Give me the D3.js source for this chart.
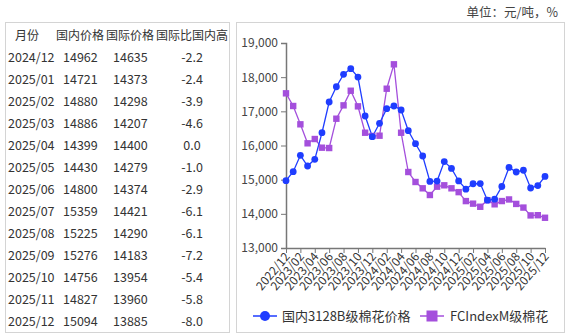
<!DOCTYPE html>
<html><head><meta charset="utf-8">
<script src="https://cdn.jsdelivr.net/npm/d3@7"></script>
<style>
body{margin:0;background:#fff;}
svg text{font-family:"Noto Sans CJK SC","Noto Sans",sans-serif;}
</style></head>
<body><svg id="c" width="569" height="336"></svg>
<script>
const months = ["2022/12","2023/01","2023/02","2023/03","2023/04","2023/05","2023/06","2023/07","2023/08","2023/09","2023/10","2023/11","2023/12",
"2024/01","2024/02","2024/03","2024/04","2024/05","2024/06","2024/07","2024/08","2024/09","2024/10","2024/11","2024/12",
"2025/01","2025/02","2025/03","2025/04","2025/05","2025/06","2025/07","2025/08","2025/09","2025/10","2025/11","2025/12"];
const domestic = [14970,15233,15713,15400,15596,16374,17273,17720,18083,18248,18004,16863,16258,
16649,17077,17156,17039,16433,16052,15692,14950,14960,15530,15330,14962,
14721,14880,14886,14399,14430,14800,15359,15225,15276,14756,14827,15094];
const intl = [17527,17156,16620,16064,16190,15936,15926,16784,17175,17603,17146,16374,16280,
16287,17662,18376,16374,15224,14932,14747,14551,14795,14835,14747,14635,
14373,14298,14207,14400,14279,14374,14421,14290,14183,13954,13960,13885];
const yTicks = [13000,14000,15000,16000,17000,18000,19000];
const tableMonths = months.slice(24);
const tableDom = domestic.slice(24);
const tableIntl = intl.slice(24);
const tableDiff = [-2.2,-2.4,-3.9,-4.6,0.0,-1.0,-2.9,-6.1,-6.1,-7.2,-5.4,-5.8,-8.0];
const headers = ["月份","国内价格","国际价格","国际比国内高"];
const legendNames = ["国内3128B级棉花价格","FCIndexM级棉花"];

const svg = d3.select("#c");
const blue = "#1f3dff", purple = "#a44fdc";

// panels
svg.append("rect").attr("x",5.5).attr("y",22.5).attr("width",224).attr("height",310).attr("fill","#fff").attr("stroke","#d4d4d4");
svg.append("rect").attr("x",236.5).attr("y",22.5).attr("width",328).attr("height",310).attr("fill","#fff").attr("stroke","#d4d4d4");

svg.append("text").attr("x",558).attr("y",17).attr("text-anchor","end").attr("font-size",12.5).attr("fill","#444").text("单位：元/吨，%");

// table
const colX = [27,80,130,192];
const tg = svg.append("g").attr("font-size",12.5).attr("fill","#333");
headers.forEach((h,i)=>tg.append("text").attr("x",colX[i]).attr("y",40).attr("text-anchor","middle").attr("font-size",12).text(h));
tableMonths.forEach((m,r)=>{
  const y = 61.5 + r*22.03;
  tg.append("text").attr("x",8).attr("y",y).text(m);
  tg.append("text").attr("x",63).attr("y",y).text(tableDom[r]);
  tg.append("text").attr("x",113).attr("y",y).text(tableIntl[r]);
  tg.append("text").attr("x",192).attr("y",y).attr("text-anchor","middle").text(tableDiff[r].toFixed(1));
});

// chart
const x = d3.scaleLinear().domain([0,months.length-1]).range([286,545]);
const y = d3.scaleLinear().domain([13000,19000]).range([248,43]);

const ya = svg.append("g").attr("transform","translate(286,0)")
  .call(d3.axisLeft(y).tickValues(yTicks).tickFormat(d3.format(",")).tickSize(5).tickSizeOuter(5));
ya.select(".domain").attr("stroke","#777").attr("stroke-width",1.5);
ya.selectAll(".tick line").attr("stroke","#777");
ya.selectAll("text").attr("font-size",12).attr("fill","#444").attr("font-family","'Noto Sans',sans-serif");

const xIdx = d3.range(0,months.length,2);
const xa = svg.append("g").attr("transform","translate(0,248)")
  .call(d3.axisBottom(x).tickValues(xIdx).tickFormat(i=>months[i]).tickSize(5).tickSizeOuter(0));
xa.select(".domain").attr("stroke","#777").attr("stroke-width",1.5);
xa.selectAll(".tick line").attr("stroke","#777");
xa.selectAll("text").attr("font-size",12).attr("fill","#333").attr("font-family","'Noto Sans',sans-serif")
  .attr("text-anchor","end").attr("dy",null).attr("y",0)
  .attr("transform","translate(4,9) rotate(-50)");

const line = d3.line().x((d,i)=>x(i)).y(d=>y(d));
svg.append("path").datum(intl).attr("d",line).attr("fill","none").attr("stroke",purple).attr("stroke-width",1.3);
svg.append("path").datum(domestic).attr("d",line).attr("fill","none").attr("stroke",blue).attr("stroke-width",1.3);
svg.append("g").selectAll("rect").data(intl).join("rect")
  .attr("x",(d,i)=>x(i)-3.2).attr("y",d=>y(d)-3.2).attr("width",6.4).attr("height",6.4).attr("fill",purple);
svg.append("g").selectAll("circle").data(domestic).join("circle")
  .attr("cx",(d,i)=>x(i)).attr("cy",d=>y(d)).attr("r",3.4).attr("fill",blue);

// legend
const lg = svg.append("g");
lg.append("line").attr("x1",253).attr("x2",277).attr("y1",316).attr("y2",316).attr("stroke",blue).attr("stroke-width",1.5);
lg.append("circle").attr("cx",265).attr("cy",316).attr("r",5).attr("fill",blue);
lg.append("text").attr("x",282).attr("y",320.5).attr("font-size",13).attr("fill","#333").text(legendNames[0]);
lg.append("line").attr("x1",420).attr("x2",444).attr("y1",316).attr("y2",316).attr("stroke",purple).attr("stroke-width",1.5);
lg.append("rect").attr("x",426.5).attr("y",310.5).attr("width",11).attr("height",11).attr("fill",purple);
lg.append("text").attr("x",450).attr("y",320.5).attr("font-size",13).attr("fill","#333").text(legendNames[1]);
</script></body></html>
